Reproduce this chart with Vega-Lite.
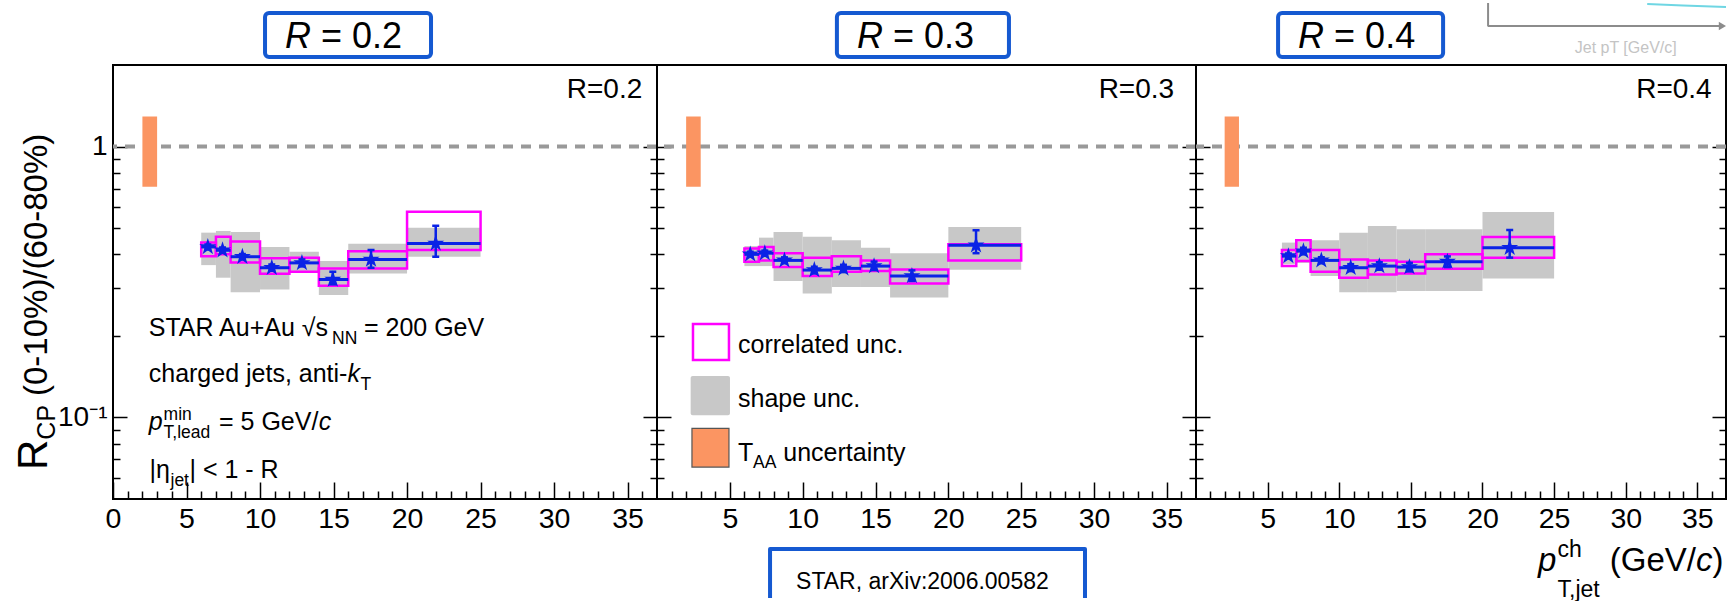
{
"$schema": "https://vega.github.io/schema/vega-lite/v6.json",
"padding": {"left": 11, "top": 0, "right": 0, "bottom": 0},
"autosize": {"type": "pad"},
"background": "white",
"spacing": 0,
"bounds": "flush",
"config": {
  "view": {"stroke": "#000000", "strokeWidth": 2},
  "font": "Liberation Sans",
  "axis": {"domain": false, "grid": false, "tickColor": "#000000", "tickWidth": 1.5, "labelColor": "#000000", "labelFont": "Liberation Sans", "labelFontSize": 28.5, "labelFlush": false, "labelOverlap": false, "labelBound": false},
  "text": {"font": "Liberation Sans", "color": "#000000"}
},
"datasets": {
  "bins": [
    {"R":"0.2","xlo":6,"xhi":7,"pt":6.45,"c":0.426,"slo":0.417,"shi":0.435,"clo":0.394,"chi":0.442,"glo":0.365,"ghi":0.481},
    {"R":"0.2","xlo":7,"xhi":8,"pt":7.45,"c":0.414,"slo":0.405,"shi":0.424,"clo":0.400,"chi":0.465,"glo":0.328,"ghi":0.488},
    {"R":"0.2","xlo":8,"xhi":10,"pt":8.8,"c":0.392,"slo":0.383,"shi":0.401,"clo":0.373,"chi":0.446,"glo":0.290,"ghi":0.484},
    {"R":"0.2","xlo":10,"xhi":12,"pt":10.8,"c":0.357,"slo":0.348,"shi":0.367,"clo":0.339,"chi":0.387,"glo":0.297,"ghi":0.426},
    {"R":"0.2","xlo":12,"xhi":14,"pt":12.85,"c":0.372,"slo":0.361,"shi":0.383,"clo":0.345,"chi":0.389,"glo":0.342,"ghi":0.409},
    {"R":"0.2","xlo":14,"xhi":16,"pt":14.95,"c":0.323,"slo":0.310,"shi":0.345,"clo":0.306,"chi":0.355,"glo":0.283,"ghi":0.378},
    {"R":"0.2","xlo":16,"xhi":20,"pt":17.55,"c":0.383,"slo":0.357,"shi":0.415,"clo":0.355,"chi":0.411,"glo":0.340,"ghi":0.438},
    {"R":"0.2","xlo":20,"xhi":25,"pt":21.95,"c":0.439,"slo":0.392,"shi":0.510,"clo":0.415,"chi":0.575,"glo":0.392,"ghi":0.502},
    {"R":"0.3","xlo":6,"xhi":7,"pt":6.4,"c":0.400,"slo":0.392,"shi":0.409,"clo":0.376,"chi":0.420,"glo":0.362,"ghi":0.429},
    {"R":"0.3","xlo":7,"xhi":8,"pt":7.4,"c":0.404,"slo":0.395,"shi":0.413,"clo":0.380,"chi":0.426,"glo":0.362,"ghi":0.461},
    {"R":"0.3","xlo":8,"xhi":10,"pt":8.75,"c":0.380,"slo":0.371,"shi":0.390,"clo":0.359,"chi":0.404,"glo":0.319,"ghi":0.484},
    {"R":"0.3","xlo":10,"xhi":12,"pt":10.8,"c":0.350,"slo":0.340,"shi":0.360,"clo":0.333,"chi":0.389,"glo":0.287,"ghi":0.465},
    {"R":"0.3","xlo":12,"xhi":14,"pt":12.8,"c":0.355,"slo":0.344,"shi":0.366,"clo":0.345,"chi":0.394,"glo":0.303,"ghi":0.451},
    {"R":"0.3","xlo":14,"xhi":16,"pt":14.9,"c":0.362,"slo":0.350,"shi":0.376,"clo":0.347,"chi":0.380,"glo":0.303,"ghi":0.423},
    {"R":"0.3","xlo":16,"xhi":20,"pt":17.5,"c":0.333,"slo":0.319,"shi":0.349,"clo":0.312,"chi":0.352,"glo":0.277,"ghi":0.404},
    {"R":"0.3","xlo":20,"xhi":25,"pt":21.9,"c":0.432,"slo":0.404,"shi":0.491,"clo":0.380,"chi":0.436,"glo":0.351,"ghi":0.505},
    {"R":"0.4","xlo":6,"xhi":7,"pt":6.45,"c":0.394,"slo":0.386,"shi":0.403,"clo":0.362,"chi":0.415,"glo":0.368,"ghi":0.442},
    {"R":"0.4","xlo":7,"xhi":8,"pt":7.5,"c":0.411,"slo":0.400,"shi":0.423,"clo":0.378,"chi":0.451,"glo":0.372,"ghi":0.445},
    {"R":"0.4","xlo":8,"xhi":10,"pt":8.75,"c":0.380,"slo":0.371,"shi":0.390,"clo":0.345,"chi":0.415,"glo":0.333,"ghi":0.451},
    {"R":"0.4","xlo":10,"xhi":12,"pt":10.8,"c":0.357,"slo":0.347,"shi":0.368,"clo":0.328,"chi":0.383,"glo":0.290,"ghi":0.481},
    {"R":"0.4","xlo":12,"xhi":14,"pt":12.8,"c":0.362,"slo":0.351,"shi":0.374,"clo":0.337,"chi":0.380,"glo":0.290,"ghi":0.509},
    {"R":"0.4","xlo":14,"xhi":16,"pt":14.9,"c":0.359,"slo":0.346,"shi":0.372,"clo":0.340,"chi":0.376,"glo":0.293,"ghi":0.495},
    {"R":"0.4","xlo":16,"xhi":20,"pt":17.55,"c":0.376,"slo":0.359,"shi":0.393,"clo":0.354,"chi":0.400,"glo":0.293,"ghi":0.495},
    {"R":"0.4","xlo":20,"xhi":25,"pt":21.9,"c":0.423,"slo":0.389,"shi":0.492,"clo":0.389,"chi":0.464,"glo":0.326,"ghi":0.573}
  ],
  "taa": [{"xlo":2,"xhi":3,"ylo":0.71,"yhi":1.29}],
  "one": [{"y":1}],
  "tboxes": [
    {"P":1,"x":10.34,"x2":21.63,"y":2.141,"y2":3.112},
    {"P":2,"x":12.35,"x2":24.16,"y":2.141,"y2":3.112},
    {"P":3,"x":5.73,"x2":17.25,"y":2.141,"y2":3.112}
  ],
  "legbox": [
    {"k":"corr","x":2.47,"x2":4.94,"y":0.163,"y2":0.2213},
    {"k":"shape","x":2.31,"x2":5.01,"y":0.1018,"y2":0.1422},
    {"k":"taa","x":2.4,"x2":4.94,"y":0.0656,"y2":0.0912}
  ],
  "citebox": [
    {"o":1,"x":7.76,"y":0.02156},{"o":2,"x":7.76,"y":0.03268},{"o":3,"x":29.38,"y":0.03268},{"o":4,"x":29.38,"y":0.02156}
  ],
  "corner": [
    {"o":1,"x":20.39,"y":3.388},{"o":2,"x":20.39,"y":2.786},{"o":3,"x":36.6,"y":2.786}
  ],
  "teal": [
    {"o":1,"x":31.5,"y":3.359},{"o":2,"x":34.0,"y":3.317},{"o":3,"x":37.0,"y":3.275}
  ],
  "arrow": [{"x":36.75,"y":2.786}],
  "txt": [
    {"P":1,"g":"plabel","x":36.0,"y":1.515,"text":"R=0.2"},
    {"P":1,"g":"boxR","x":11.70,"y":2.317,"text":"R"},
    {"P":1,"g":"boxV","x":14.15,"y":2.317,"text":"= 0.2"},
    {"P":1,"g":"info","x":2.43,"y":0.199,"text":"STAR Au+Au √s"},
    {"P":1,"g":"info_sub","x":14.9,"y":0.199,"text":"NN"},
    {"P":1,"g":"info","x":17.07,"y":0.199,"text":"= 200 GeV"},
    {"P":1,"g":"info","x":2.43,"y":0.1357,"text":"charged jets, anti-"},
    {"P":1,"g":"info_i","x":15.95,"y":0.1357,"text":"k"},
    {"P":1,"g":"info_sub","x":16.84,"y":0.1357,"text":"T"},
    {"P":1,"g":"info_i","x":2.43,"y":0.09,"text":"p"},
    {"P":1,"g":"info_sup","x":3.44,"y":0.09,"text":"min"},
    {"P":1,"g":"info_sub","x":3.44,"y":0.09,"text":"T,lead"},
    {"P":1,"g":"info","x":7.21,"y":0.09,"text":"= 5 GeV/"},
    {"P":1,"g":"info_i","x":13.99,"y":0.09,"text":"c"},
    {"P":1,"g":"info","x":2.48,"y":0.06,"text":"|η"},
    {"P":1,"g":"info_sub","x":3.91,"y":0.06,"text":"jet"},
    {"P":1,"g":"info","x":5.2,"y":0.06,"text":"| < 1 - R"},
    {"P":1,"g":"ytR","x":-4.49,"y":0.064,"text":"R"},
    {"P":1,"g":"ytCP","x":-4.49,"y":0.0828,"text":"CP"},
    {"P":1,"g":"yt","x":-4.49,"y":0.12,"text":"(0-10%)/(60-80%)"},
    {"P":2,"g":"plabel","x":35.5,"y":1.515,"text":"R=0.3"},
    {"P":2,"g":"boxR","x":13.73,"y":2.317,"text":"R"},
    {"P":2,"g":"boxV","x":16.2,"y":2.317,"text":"= 0.3"},
    {"P":2,"g":"info","x":5.56,"y":0.1734,"text":"correlated unc."},
    {"P":2,"g":"info","x":5.56,"y":0.1093,"text":"shape unc."},
    {"P":2,"g":"info","x":5.56,"y":0.0691,"text":"T"},
    {"P":2,"g":"info_sub","x":6.59,"y":0.0691,"text":"AA"},
    {"P":2,"g":"info","x":8.67,"y":0.0691,"text":"uncertainty"},
    {"P":2,"g":"cite","x":18.22,"y":0.02327,"text":"STAR, arXiv:2006.00582"},
    {"P":3,"g":"plabel","x":36.0,"y":1.515,"text":"R=0.4"},
    {"P":3,"g":"boxR","x":7.12,"y":2.317,"text":"R"},
    {"P":3,"g":"boxV","x":9.64,"y":2.317,"text":"= 0.4"},
    {"P":3,"g":"xt_i","x":23.88,"y":0.02711,"text":"p"},
    {"P":3,"g":"xt_sup","x":25.24,"y":0.02711,"text":"ch"},
    {"P":3,"g":"xt_sub","x":25.24,"y":0.02711,"text":"T,jet"},
    {"P":3,"g":"xt","x":28.89,"y":0.02711,"text":"(GeV/"},
    {"P":3,"g":"xt_i","x":34.91,"y":0.02711,"text":"c"},
    {"P":3,"g":"xt","x":36.06,"y":0.02711,"text":")"},
    {"P":3,"g":"corner","x":30.0,"y":2.311,"text":"Jet pT [GeV/c]"}
  ]
},
"hconcat": [
 {
  "width": 544, "height": 434,
  "resolve": {"axis": {"x": "independent", "y": "independent"}},
  "layer": [
   {"data":{"name":"bins"},"transform":[{"filter":"datum.R == '0.2'"}],"mark":{"type":"rect","color":"#c8c8c8"},
    "encoding":{"x":{"field":"xlo","type":"quantitative","scale":{"domain":[0,37],"nice":false,"zero":false},"axis":{"orient":"bottom","values":[0,5,10,15,20,25,30,35],"offset":-17,"tickSize":17,"labelPadding":5,"title":null}},"x2":{"field":"xhi"},
    "y":{"field":"glo","type":"quantitative","scale":{"type":"log","domain":[0.05,2],"nice":false},"axis":{"orient":"left","values":[0.1,1],"offset":-14,"tickSize":14,"labelPadding":6,"labelFontSize":28,"labelExpr":"datum.value == 1 ? '1' : '10⁻¹'","title":null}},"y2":{"field":"ghi"}}},
   {"data":{"name":"bins"},"transform":[{"filter":"datum.R == '0.2'"}],"mark":{"type":"rect","filled":false,"color":"#ff00ff","strokeWidth":2.5},
    "encoding":{"x":{"field":"xlo","type":"quantitative","scale":{"domain":[0,37],"nice":false,"zero":false},"axis":{"orient":"bottom","values":[1,2,3,4,6,7,8,9,11,12,13,14,16,17,18,19,21,22,23,24,26,27,28,29,31,32,33,34,36],"offset":-8,"tickSize":8,"labels":false,"title":null}},"x2":{"field":"xhi"},
    "y":{"field":"clo","type":"quantitative","scale":{"type":"log","domain":[0.05,2],"nice":false},"axis":{"orient":"left","values":[0.06,0.07,0.08,0.09,0.2,0.3,0.4,0.5,0.6,0.7,0.8,0.9],"offset":-7,"tickSize":7,"labels":false,"title":null}},"y2":{"field":"chi"}}},
   {"data":{"name":"one"},"mark":{"type":"rule","color":"#999999","strokeWidth":4,"strokeDash":[10,8]},
    "encoding":{"y":{"field":"y","type":"quantitative","scale":{"type":"log","domain":[0.05,2],"nice":false},"axis":null}}},
   {"data":{"name":"taa"},"mark":{"type":"rect","color":"#fb9562"},
    "encoding":{"x":{"field":"xlo","type":"quantitative","scale":{"domain":[0,37],"nice":false,"zero":false},"axis":null},"x2":{"field":"xhi"},
    "y":{"field":"ylo","type":"quantitative","scale":{"type":"log","domain":[0.05,2],"nice":false},"axis":{"orient":"right","values":[0.1,1],"offset":-14,"tickSize":14,"labels":false,"title":null}},"y2":{"field":"yhi"}}},
   {"data":{"name":"bins"},"transform":[{"filter":"datum.R == '0.2'"}],"mark":{"type":"rule","color":"#0a22e6","strokeWidth":3},
    "encoding":{"x":{"field":"xlo","type":"quantitative","scale":{"domain":[0,37],"nice":false,"zero":false},"axis":null},"x2":{"field":"xhi"},
    "y":{"field":"c","type":"quantitative","scale":{"type":"log","domain":[0.05,2],"nice":false},"axis":{"orient":"right","values":[0.06,0.07,0.08,0.09,0.2,0.3,0.4,0.5,0.6,0.7,0.8,0.9],"offset":-7,"tickSize":7,"labels":false,"title":null}}}},
   {"data":{"name":"bins"},"transform":[{"filter":"datum.R == '0.2'"}],"mark":{"type":"rule","color":"#0a22e6","strokeWidth":2.5},
    "encoding":{"x":{"field":"pt","type":"quantitative","scale":{"domain":[0,37],"nice":false,"zero":false},"axis":null},
    "y":{"field":"slo","type":"quantitative","scale":{"type":"log","domain":[0.05,2],"nice":false},"axis":null},"y2":{"field":"shi"}}},
   {"data":{"name":"bins"},"transform":[{"filter":"datum.R == '0.2'"},{"fold":["slo","shi"],"as":["end","v"]}],"mark":{"type":"tick","orient":"horizontal","color":"#0a22e6","size":7,"thickness":2.5,"opacity":1},
    "encoding":{"x":{"field":"pt","type":"quantitative","scale":{"domain":[0,37],"nice":false,"zero":false},"axis":null},
    "y":{"field":"v","type":"quantitative","scale":{"type":"log","domain":[0.05,2],"nice":false},"axis":null}}},
   {"data":{"name":"bins"},"transform":[{"filter":"datum.R == '0.2'"}],"mark":{"type":"point","filled":true,"color":"#0a22e6","size":320,"opacity":1,"shape":"M0,-1L0.2245,-0.309L0.9511,-0.309L0.3633,0.118L0.5878,0.809L0,0.382L-0.5878,0.809L-0.3633,0.118L-0.9511,-0.309L-0.2245,-0.309Z"},
    "encoding":{"x":{"field":"pt","type":"quantitative","scale":{"domain":[0,37],"nice":false,"zero":false},"axis":null},
    "y":{"field":"c","type":"quantitative","scale":{"type":"log","domain":[0.05,2],"nice":false},"axis":null}}},
   {"data":{"name":"tboxes"},"transform":[{"filter":"datum.P == 1"}],"mark":{"type":"rect","fill":"white","stroke":"#1559d1","strokeWidth":4,"cornerRadius":4},
    "encoding":{"x":{"field":"x","type":"quantitative","scale":{"domain":[0,37],"nice":false,"zero":false},"axis":null},"x2":{"field":"x2"},
    "y":{"field":"y","type":"quantitative","scale":{"type":"log","domain":[0.05,2],"nice":false},"axis":null},"y2":{"field":"y2"}}},
   {"data":{"name":"txt"},"transform":[{"filter":"datum.P == 1 && datum.g == 'plabel'"}],"mark":{"type":"text","fontSize":28,"align":"right","baseline":"alphabetic"},
    "encoding":{"x":{"field":"x","type":"quantitative","scale":{"domain":[0,37],"nice":false,"zero":false},"axis":null},"y":{"field":"y","type":"quantitative","scale":{"type":"log","domain":[0.05,2],"nice":false},"axis":null},"text":{"field":"text"}}},
   {"data":{"name":"txt"},"transform":[{"filter":"datum.P == 1 && datum.g == 'boxR'"}],"mark":{"type":"text","fontSize":36,"fontStyle":"italic","align":"left","baseline":"alphabetic"},
    "encoding":{"x":{"field":"x","type":"quantitative","scale":{"domain":[0,37],"nice":false,"zero":false},"axis":null},"y":{"field":"y","type":"quantitative","scale":{"type":"log","domain":[0.05,2],"nice":false},"axis":null},"text":{"field":"text"}}},
   {"data":{"name":"txt"},"transform":[{"filter":"datum.P == 1 && datum.g == 'boxV'"}],"mark":{"type":"text","fontSize":36,"align":"left","baseline":"alphabetic"},
    "encoding":{"x":{"field":"x","type":"quantitative","scale":{"domain":[0,37],"nice":false,"zero":false},"axis":null},"y":{"field":"y","type":"quantitative","scale":{"type":"log","domain":[0.05,2],"nice":false},"axis":null},"text":{"field":"text"}}},
   {"data":{"name":"txt"},"transform":[{"filter":"datum.P == 1 && datum.g == 'info'"}],"mark":{"type":"text","fontSize":25,"align":"left","baseline":"alphabetic"},
    "encoding":{"x":{"field":"x","type":"quantitative","scale":{"domain":[0,37],"nice":false,"zero":false},"axis":null},"y":{"field":"y","type":"quantitative","scale":{"type":"log","domain":[0.05,2],"nice":false},"axis":null},"text":{"field":"text"}}},
   {"data":{"name":"txt"},"transform":[{"filter":"datum.P == 1 && datum.g == 'info_i'"}],"mark":{"type":"text","fontSize":25,"fontStyle":"italic","align":"left","baseline":"alphabetic"},
    "encoding":{"x":{"field":"x","type":"quantitative","scale":{"domain":[0,37],"nice":false,"zero":false},"axis":null},"y":{"field":"y","type":"quantitative","scale":{"type":"log","domain":[0.05,2],"nice":false},"axis":null},"text":{"field":"text"}}},
   {"data":{"name":"txt"},"transform":[{"filter":"datum.P == 1 && datum.g == 'info_sub'"}],"mark":{"type":"text","fontSize":17.5,"dy":8,"align":"left","baseline":"alphabetic"},
    "encoding":{"x":{"field":"x","type":"quantitative","scale":{"domain":[0,37],"nice":false,"zero":false},"axis":null},"y":{"field":"y","type":"quantitative","scale":{"type":"log","domain":[0.05,2],"nice":false},"axis":null},"text":{"field":"text"}}},
   {"data":{"name":"txt"},"transform":[{"filter":"datum.P == 1 && datum.g == 'info_sup'"}],"mark":{"type":"text","fontSize":17.5,"dy":-10,"align":"left","baseline":"alphabetic"},
    "encoding":{"x":{"field":"x","type":"quantitative","scale":{"domain":[0,37],"nice":false,"zero":false},"axis":null},"y":{"field":"y","type":"quantitative","scale":{"type":"log","domain":[0.05,2],"nice":false},"axis":null},"text":{"field":"text"}}},
   {"data":{"name":"txt"},"transform":[{"filter":"datum.P == 1 && datum.g == 'ytR'"}],"mark":{"type":"text","fontSize":42,"angle":270,"align":"left","baseline":"alphabetic"},
    "encoding":{"x":{"field":"x","type":"quantitative","scale":{"domain":[0,37],"nice":false,"zero":false},"axis":null},"y":{"field":"y","type":"quantitative","scale":{"type":"log","domain":[0.05,2],"nice":false},"axis":null},"text":{"field":"text"}}},
   {"data":{"name":"txt"},"transform":[{"filter":"datum.P == 1 && datum.g == 'ytCP'"}],"mark":{"type":"text","fontSize":25,"angle":270,"dy":8,"align":"left","baseline":"alphabetic"},
    "encoding":{"x":{"field":"x","type":"quantitative","scale":{"domain":[0,37],"nice":false,"zero":false},"axis":null},"y":{"field":"y","type":"quantitative","scale":{"type":"log","domain":[0.05,2],"nice":false},"axis":null},"text":{"field":"text"}}},
   {"data":{"name":"txt"},"transform":[{"filter":"datum.P == 1 && datum.g == 'yt'"}],"mark":{"type":"text","fontSize":33,"angle":270,"align":"left","baseline":"alphabetic"},
    "encoding":{"x":{"field":"x","type":"quantitative","scale":{"domain":[0,37],"nice":false,"zero":false},"axis":null},"y":{"field":"y","type":"quantitative","scale":{"type":"log","domain":[0.05,2],"nice":false},"axis":null},"text":{"field":"text"}}}
  ]
 },
 {
  "width": 539, "height": 434,
  "resolve": {"axis": {"x": "independent", "y": "independent"}},
  "layer": [
   {"data":{"name":"bins"},"transform":[{"filter":"datum.R == '0.3'"}],"mark":{"type":"rect","color":"#c8c8c8"},
    "encoding":{"x":{"field":"xlo","type":"quantitative","scale":{"domain":[0,37],"nice":false,"zero":false},"axis":{"orient":"bottom","values":[5,10,15,20,25,30,35],"offset":-17,"tickSize":17,"labelPadding":5,"title":null}},"x2":{"field":"xhi"},
    "y":{"field":"glo","type":"quantitative","scale":{"type":"log","domain":[0.05,2],"nice":false},"axis":{"orient":"left","values":[0.1,1],"offset":-14,"tickSize":14,"labels":false,"title":null}},"y2":{"field":"ghi"}}},
   {"data":{"name":"bins"},"transform":[{"filter":"datum.R == '0.3'"}],"mark":{"type":"rect","filled":false,"color":"#ff00ff","strokeWidth":2.5},
    "encoding":{"x":{"field":"xlo","type":"quantitative","scale":{"domain":[0,37],"nice":false,"zero":false},"axis":{"orient":"bottom","values":[1,2,3,4,6,7,8,9,11,12,13,14,16,17,18,19,21,22,23,24,26,27,28,29,31,32,33,34,36],"offset":-8,"tickSize":8,"labels":false,"title":null}},"x2":{"field":"xhi"},
    "y":{"field":"clo","type":"quantitative","scale":{"type":"log","domain":[0.05,2],"nice":false},"axis":{"orient":"left","values":[0.06,0.07,0.08,0.09,0.2,0.3,0.4,0.5,0.6,0.7,0.8,0.9],"offset":-7,"tickSize":7,"labels":false,"title":null}},"y2":{"field":"chi"}}},
   {"data":{"name":"one"},"mark":{"type":"rule","color":"#999999","strokeWidth":4,"strokeDash":[10,8]},
    "encoding":{"y":{"field":"y","type":"quantitative","scale":{"type":"log","domain":[0.05,2],"nice":false},"axis":null}}},
   {"data":{"name":"taa"},"mark":{"type":"rect","color":"#fb9562"},
    "encoding":{"x":{"field":"xlo","type":"quantitative","scale":{"domain":[0,37],"nice":false,"zero":false},"axis":null},"x2":{"field":"xhi"},
    "y":{"field":"ylo","type":"quantitative","scale":{"type":"log","domain":[0.05,2],"nice":false},"axis":{"orient":"right","values":[0.1,1],"offset":-14,"tickSize":14,"labels":false,"title":null}},"y2":{"field":"yhi"}}},
   {"data":{"name":"bins"},"transform":[{"filter":"datum.R == '0.3'"}],"mark":{"type":"rule","color":"#0a22e6","strokeWidth":3},
    "encoding":{"x":{"field":"xlo","type":"quantitative","scale":{"domain":[0,37],"nice":false,"zero":false},"axis":null},"x2":{"field":"xhi"},
    "y":{"field":"c","type":"quantitative","scale":{"type":"log","domain":[0.05,2],"nice":false},"axis":{"orient":"right","values":[0.06,0.07,0.08,0.09,0.2,0.3,0.4,0.5,0.6,0.7,0.8,0.9],"offset":-7,"tickSize":7,"labels":false,"title":null}}}},
   {"data":{"name":"bins"},"transform":[{"filter":"datum.R == '0.3'"}],"mark":{"type":"rule","color":"#0a22e6","strokeWidth":2.5},
    "encoding":{"x":{"field":"pt","type":"quantitative","scale":{"domain":[0,37],"nice":false,"zero":false},"axis":null},
    "y":{"field":"slo","type":"quantitative","scale":{"type":"log","domain":[0.05,2],"nice":false},"axis":null},"y2":{"field":"shi"}}},
   {"data":{"name":"bins"},"transform":[{"filter":"datum.R == '0.3'"},{"fold":["slo","shi"],"as":["end","v"]}],"mark":{"type":"tick","orient":"horizontal","color":"#0a22e6","size":7,"thickness":2.5,"opacity":1},
    "encoding":{"x":{"field":"pt","type":"quantitative","scale":{"domain":[0,37],"nice":false,"zero":false},"axis":null},
    "y":{"field":"v","type":"quantitative","scale":{"type":"log","domain":[0.05,2],"nice":false},"axis":null}}},
   {"data":{"name":"bins"},"transform":[{"filter":"datum.R == '0.3'"}],"mark":{"type":"point","filled":true,"color":"#0a22e6","size":320,"opacity":1,"shape":"M0,-1L0.2245,-0.309L0.9511,-0.309L0.3633,0.118L0.5878,0.809L0,0.382L-0.5878,0.809L-0.3633,0.118L-0.9511,-0.309L-0.2245,-0.309Z"},
    "encoding":{"x":{"field":"pt","type":"quantitative","scale":{"domain":[0,37],"nice":false,"zero":false},"axis":null},
    "y":{"field":"c","type":"quantitative","scale":{"type":"log","domain":[0.05,2],"nice":false},"axis":null}}},
   {"data":{"name":"tboxes"},"transform":[{"filter":"datum.P == 2"}],"mark":{"type":"rect","fill":"white","stroke":"#1559d1","strokeWidth":4,"cornerRadius":4},
    "encoding":{"x":{"field":"x","type":"quantitative","scale":{"domain":[0,37],"nice":false,"zero":false},"axis":null},"x2":{"field":"x2"},
    "y":{"field":"y","type":"quantitative","scale":{"type":"log","domain":[0.05,2],"nice":false},"axis":null},"y2":{"field":"y2"}}},
   {"data":{"name":"legbox"},"transform":[{"filter":"datum.k == 'corr'"}],"mark":{"type":"rect","filled":false,"color":"#ff00ff","strokeWidth":2.5},
    "encoding":{"x":{"field":"x","type":"quantitative","scale":{"domain":[0,37],"nice":false,"zero":false},"axis":null},"x2":{"field":"x2"},
    "y":{"field":"y","type":"quantitative","scale":{"type":"log","domain":[0.05,2],"nice":false},"axis":null},"y2":{"field":"y2"}}},
   {"data":{"name":"legbox"},"transform":[{"filter":"datum.k == 'shape'"}],"mark":{"type":"rect","color":"#c8c8c8","cornerRadius":2},
    "encoding":{"x":{"field":"x","type":"quantitative","scale":{"domain":[0,37],"nice":false,"zero":false},"axis":null},"x2":{"field":"x2"},
    "y":{"field":"y","type":"quantitative","scale":{"type":"log","domain":[0.05,2],"nice":false},"axis":null},"y2":{"field":"y2"}}},
   {"data":{"name":"legbox"},"transform":[{"filter":"datum.k == 'taa'"}],"mark":{"type":"rect","fill":"#fb9562","stroke":"#555555","strokeWidth":1.2},
    "encoding":{"x":{"field":"x","type":"quantitative","scale":{"domain":[0,37],"nice":false,"zero":false},"axis":null},"x2":{"field":"x2"},
    "y":{"field":"y","type":"quantitative","scale":{"type":"log","domain":[0.05,2],"nice":false},"axis":null},"y2":{"field":"y2"}}},
   {"data":{"name":"citebox"},"mark":{"type":"line","color":"#1559d1","strokeWidth":4,"strokeJoin":"round"},
    "encoding":{"x":{"field":"x","type":"quantitative","scale":{"domain":[0,37],"nice":false,"zero":false},"axis":null},
    "y":{"field":"y","type":"quantitative","scale":{"type":"log","domain":[0.05,2],"nice":false},"axis":null},"order":{"field":"o"}}},
   {"data":{"name":"txt"},"transform":[{"filter":"datum.P == 2 && datum.g == 'plabel'"}],"mark":{"type":"text","fontSize":28,"align":"right","baseline":"alphabetic"},
    "encoding":{"x":{"field":"x","type":"quantitative","scale":{"domain":[0,37],"nice":false,"zero":false},"axis":null},"y":{"field":"y","type":"quantitative","scale":{"type":"log","domain":[0.05,2],"nice":false},"axis":null},"text":{"field":"text"}}},
   {"data":{"name":"txt"},"transform":[{"filter":"datum.P == 2 && datum.g == 'boxR'"}],"mark":{"type":"text","fontSize":36,"fontStyle":"italic","align":"left","baseline":"alphabetic"},
    "encoding":{"x":{"field":"x","type":"quantitative","scale":{"domain":[0,37],"nice":false,"zero":false},"axis":null},"y":{"field":"y","type":"quantitative","scale":{"type":"log","domain":[0.05,2],"nice":false},"axis":null},"text":{"field":"text"}}},
   {"data":{"name":"txt"},"transform":[{"filter":"datum.P == 2 && datum.g == 'boxV'"}],"mark":{"type":"text","fontSize":36,"align":"left","baseline":"alphabetic"},
    "encoding":{"x":{"field":"x","type":"quantitative","scale":{"domain":[0,37],"nice":false,"zero":false},"axis":null},"y":{"field":"y","type":"quantitative","scale":{"type":"log","domain":[0.05,2],"nice":false},"axis":null},"text":{"field":"text"}}},
   {"data":{"name":"txt"},"transform":[{"filter":"datum.P == 2 && datum.g == 'info'"}],"mark":{"type":"text","fontSize":25,"align":"left","baseline":"alphabetic"},
    "encoding":{"x":{"field":"x","type":"quantitative","scale":{"domain":[0,37],"nice":false,"zero":false},"axis":null},"y":{"field":"y","type":"quantitative","scale":{"type":"log","domain":[0.05,2],"nice":false},"axis":null},"text":{"field":"text"}}},
   {"data":{"name":"txt"},"transform":[{"filter":"datum.P == 2 && datum.g == 'info_sub'"}],"mark":{"type":"text","fontSize":17.5,"dy":7,"align":"left","baseline":"alphabetic"},
    "encoding":{"x":{"field":"x","type":"quantitative","scale":{"domain":[0,37],"nice":false,"zero":false},"axis":null},"y":{"field":"y","type":"quantitative","scale":{"type":"log","domain":[0.05,2],"nice":false},"axis":null},"text":{"field":"text"}}},
   {"data":{"name":"txt"},"transform":[{"filter":"datum.P == 2 && datum.g == 'cite'"}],"mark":{"type":"text","fontSize":23,"align":"center","baseline":"alphabetic"},
    "encoding":{"x":{"field":"x","type":"quantitative","scale":{"domain":[0,37],"nice":false,"zero":false},"axis":null},"y":{"field":"y","type":"quantitative","scale":{"type":"log","domain":[0.05,2],"nice":false},"axis":null},"text":{"field":"text"}}}
  ]
 },
 {
  "width": 530, "height": 434,
  "resolve": {"axis": {"x": "independent", "y": "independent"}},
  "layer": [
   {"data":{"name":"bins"},"transform":[{"filter":"datum.R == '0.4'"}],"mark":{"type":"rect","color":"#c8c8c8"},
    "encoding":{"x":{"field":"xlo","type":"quantitative","scale":{"domain":[0,37],"nice":false,"zero":false},"axis":{"orient":"bottom","values":[5,10,15,20,25,30,35],"offset":-17,"tickSize":17,"labelPadding":5,"title":null}},"x2":{"field":"xhi"},
    "y":{"field":"glo","type":"quantitative","scale":{"type":"log","domain":[0.05,2],"nice":false},"axis":{"orient":"left","values":[0.1,1],"offset":-14,"tickSize":14,"labels":false,"title":null}},"y2":{"field":"ghi"}}},
   {"data":{"name":"bins"},"transform":[{"filter":"datum.R == '0.4'"}],"mark":{"type":"rect","filled":false,"color":"#ff00ff","strokeWidth":2.5},
    "encoding":{"x":{"field":"xlo","type":"quantitative","scale":{"domain":[0,37],"nice":false,"zero":false},"axis":{"orient":"bottom","values":[1,2,3,4,6,7,8,9,11,12,13,14,16,17,18,19,21,22,23,24,26,27,28,29,31,32,33,34,36],"offset":-8,"tickSize":8,"labels":false,"title":null}},"x2":{"field":"xhi"},
    "y":{"field":"clo","type":"quantitative","scale":{"type":"log","domain":[0.05,2],"nice":false},"axis":{"orient":"left","values":[0.06,0.07,0.08,0.09,0.2,0.3,0.4,0.5,0.6,0.7,0.8,0.9],"offset":-7,"tickSize":7,"labels":false,"title":null}},"y2":{"field":"chi"}}},
   {"data":{"name":"one"},"mark":{"type":"rule","color":"#999999","strokeWidth":4,"strokeDash":[10,8]},
    "encoding":{"y":{"field":"y","type":"quantitative","scale":{"type":"log","domain":[0.05,2],"nice":false},"axis":null}}},
   {"data":{"name":"taa"},"mark":{"type":"rect","color":"#fb9562"},
    "encoding":{"x":{"field":"xlo","type":"quantitative","scale":{"domain":[0,37],"nice":false,"zero":false},"axis":null},"x2":{"field":"xhi"},
    "y":{"field":"ylo","type":"quantitative","scale":{"type":"log","domain":[0.05,2],"nice":false},"axis":{"orient":"right","values":[0.1,1],"offset":-14,"tickSize":14,"labels":false,"title":null}},"y2":{"field":"yhi"}}},
   {"data":{"name":"bins"},"transform":[{"filter":"datum.R == '0.4'"}],"mark":{"type":"rule","color":"#0a22e6","strokeWidth":3},
    "encoding":{"x":{"field":"xlo","type":"quantitative","scale":{"domain":[0,37],"nice":false,"zero":false},"axis":null},"x2":{"field":"xhi"},
    "y":{"field":"c","type":"quantitative","scale":{"type":"log","domain":[0.05,2],"nice":false},"axis":{"orient":"right","values":[0.06,0.07,0.08,0.09,0.2,0.3,0.4,0.5,0.6,0.7,0.8,0.9],"offset":-7,"tickSize":7,"labels":false,"title":null}}}},
   {"data":{"name":"bins"},"transform":[{"filter":"datum.R == '0.4'"}],"mark":{"type":"rule","color":"#0a22e6","strokeWidth":2.5},
    "encoding":{"x":{"field":"pt","type":"quantitative","scale":{"domain":[0,37],"nice":false,"zero":false},"axis":null},
    "y":{"field":"slo","type":"quantitative","scale":{"type":"log","domain":[0.05,2],"nice":false},"axis":null},"y2":{"field":"shi"}}},
   {"data":{"name":"bins"},"transform":[{"filter":"datum.R == '0.4'"},{"fold":["slo","shi"],"as":["end","v"]}],"mark":{"type":"tick","orient":"horizontal","color":"#0a22e6","size":7,"thickness":2.5,"opacity":1},
    "encoding":{"x":{"field":"pt","type":"quantitative","scale":{"domain":[0,37],"nice":false,"zero":false},"axis":null},
    "y":{"field":"v","type":"quantitative","scale":{"type":"log","domain":[0.05,2],"nice":false},"axis":null}}},
   {"data":{"name":"bins"},"transform":[{"filter":"datum.R == '0.4'"}],"mark":{"type":"point","filled":true,"color":"#0a22e6","size":320,"opacity":1,"shape":"M0,-1L0.2245,-0.309L0.9511,-0.309L0.3633,0.118L0.5878,0.809L0,0.382L-0.5878,0.809L-0.3633,0.118L-0.9511,-0.309L-0.2245,-0.309Z"},
    "encoding":{"x":{"field":"pt","type":"quantitative","scale":{"domain":[0,37],"nice":false,"zero":false},"axis":null},
    "y":{"field":"c","type":"quantitative","scale":{"type":"log","domain":[0.05,2],"nice":false},"axis":null}}},
   {"data":{"name":"tboxes"},"transform":[{"filter":"datum.P == 3"}],"mark":{"type":"rect","fill":"white","stroke":"#1559d1","strokeWidth":4,"cornerRadius":4},
    "encoding":{"x":{"field":"x","type":"quantitative","scale":{"domain":[0,37],"nice":false,"zero":false},"axis":null},"x2":{"field":"x2"},
    "y":{"field":"y","type":"quantitative","scale":{"type":"log","domain":[0.05,2],"nice":false},"axis":null},"y2":{"field":"y2"}}},
   {"data":{"name":"corner"},"mark":{"type":"line","color":"#8c8c8c","strokeWidth":2,"strokeJoin":"bevel"},
    "encoding":{"x":{"field":"x","type":"quantitative","scale":{"domain":[0,37],"nice":false,"zero":false},"axis":null},
    "y":{"field":"y","type":"quantitative","scale":{"type":"log","domain":[0.05,2],"nice":false},"axis":null},"order":{"field":"o"}}},
   {"data":{"name":"teal"},"mark":{"type":"line","color":"#6fd6e3","strokeWidth":2,"strokeJoin":"round","interpolate":"monotone"},
    "encoding":{"x":{"field":"x","type":"quantitative","scale":{"domain":[0,37],"nice":false,"zero":false},"axis":null},
    "y":{"field":"y","type":"quantitative","scale":{"type":"log","domain":[0.05,2],"nice":false},"axis":null},"order":{"field":"o"}}},
   {"data":{"name":"arrow"},"mark":{"type":"point","shape":"triangle-right","filled":true,"color":"#8c8c8c","size":70,"opacity":1},
    "encoding":{"x":{"field":"x","type":"quantitative","scale":{"domain":[0,37],"nice":false,"zero":false},"axis":null},
    "y":{"field":"y","type":"quantitative","scale":{"type":"log","domain":[0.05,2],"nice":false},"axis":null}}},
   {"data":{"name":"txt"},"transform":[{"filter":"datum.P == 3 && datum.g == 'corner'"}],"mark":{"type":"text","fontSize":16,"align":"center","baseline":"middle","color":"#c4c4c4"},
    "encoding":{"x":{"field":"x","type":"quantitative","scale":{"domain":[0,37],"nice":false,"zero":false},"axis":null},"y":{"field":"y","type":"quantitative","scale":{"type":"log","domain":[0.05,2],"nice":false},"axis":null},"text":{"field":"text"}}},
   {"data":{"name":"txt"},"transform":[{"filter":"datum.P == 3 && datum.g == 'plabel'"}],"mark":{"type":"text","fontSize":28,"align":"right","baseline":"alphabetic"},
    "encoding":{"x":{"field":"x","type":"quantitative","scale":{"domain":[0,37],"nice":false,"zero":false},"axis":null},"y":{"field":"y","type":"quantitative","scale":{"type":"log","domain":[0.05,2],"nice":false},"axis":null},"text":{"field":"text"}}},
   {"data":{"name":"txt"},"transform":[{"filter":"datum.P == 3 && datum.g == 'boxR'"}],"mark":{"type":"text","fontSize":36,"fontStyle":"italic","align":"left","baseline":"alphabetic"},
    "encoding":{"x":{"field":"x","type":"quantitative","scale":{"domain":[0,37],"nice":false,"zero":false},"axis":null},"y":{"field":"y","type":"quantitative","scale":{"type":"log","domain":[0.05,2],"nice":false},"axis":null},"text":{"field":"text"}}},
   {"data":{"name":"txt"},"transform":[{"filter":"datum.P == 3 && datum.g == 'boxV'"}],"mark":{"type":"text","fontSize":36,"align":"left","baseline":"alphabetic"},
    "encoding":{"x":{"field":"x","type":"quantitative","scale":{"domain":[0,37],"nice":false,"zero":false},"axis":null},"y":{"field":"y","type":"quantitative","scale":{"type":"log","domain":[0.05,2],"nice":false},"axis":null},"text":{"field":"text"}}},
   {"data":{"name":"txt"},"transform":[{"filter":"datum.P == 3 && datum.g == 'xt'"}],"mark":{"type":"text","fontSize":33,"align":"left","baseline":"alphabetic"},
    "encoding":{"x":{"field":"x","type":"quantitative","scale":{"domain":[0,37],"nice":false,"zero":false},"axis":null},"y":{"field":"y","type":"quantitative","scale":{"type":"log","domain":[0.05,2],"nice":false},"axis":null},"text":{"field":"text"}}},
   {"data":{"name":"txt"},"transform":[{"filter":"datum.P == 3 && datum.g == 'xt_i'"}],"mark":{"type":"text","fontSize":33,"fontStyle":"italic","align":"left","baseline":"alphabetic"},
    "encoding":{"x":{"field":"x","type":"quantitative","scale":{"domain":[0,37],"nice":false,"zero":false},"axis":null},"y":{"field":"y","type":"quantitative","scale":{"type":"log","domain":[0.05,2],"nice":false},"axis":null},"text":{"field":"text"}}},
   {"data":{"name":"txt"},"transform":[{"filter":"datum.P == 3 && datum.g == 'xt_sup'"}],"mark":{"type":"text","fontSize":23,"dy":-14,"align":"left","baseline":"alphabetic"},
    "encoding":{"x":{"field":"x","type":"quantitative","scale":{"domain":[0,37],"nice":false,"zero":false},"axis":null},"y":{"field":"y","type":"quantitative","scale":{"type":"log","domain":[0.05,2],"nice":false},"axis":null},"text":{"field":"text"}}},
   {"data":{"name":"txt"},"transform":[{"filter":"datum.P == 3 && datum.g == 'xt_sub'"}],"mark":{"type":"text","fontSize":23,"dy":26,"align":"left","baseline":"alphabetic"},
    "encoding":{"x":{"field":"x","type":"quantitative","scale":{"domain":[0,37],"nice":false,"zero":false},"axis":null},"y":{"field":"y","type":"quantitative","scale":{"type":"log","domain":[0.05,2],"nice":false},"axis":null},"text":{"field":"text"}}}
  ]
 }
]
}
